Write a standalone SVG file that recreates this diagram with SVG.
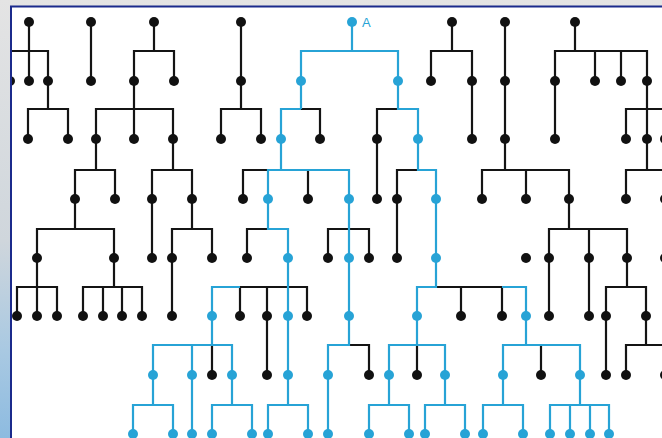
<svg xmlns="http://www.w3.org/2000/svg" width="662" height="438" viewBox="0 0 662 438">
<style>
.k{fill:none;stroke:#141414;stroke-width:2.2}
.b{fill:none;stroke:#27a3d6;stroke-width:2.2}
.nk{fill:#111}
.nb{fill:#27a3d6}
.lbl{font-family:"Liberation Sans",Arial,sans-serif;font-size:13px;fill:#27a3d6}
</style>
<defs>
<linearGradient id="bg" x1="0" y1="0" x2="0" y2="1">
<stop offset="0" stop-color="#e4e4e4"/>
<stop offset="0.55" stop-color="#cfd6dc"/>
<stop offset="0.8" stop-color="#a9c9e2"/>
<stop offset="1" stop-color="#8dbbe0"/>
</linearGradient>
<clipPath id="win"><rect x="12" y="8" width="660" height="440"/></clipPath>
</defs>
<rect width="662" height="438" fill="url(#bg)"/>
<rect x="11" y="7" width="660" height="440" fill="#ffffff"/>
<path d="M11 438V6.5H662" fill="none" stroke="#1b2a8c" stroke-width="2"/>
<g clip-path="url(#win)">
<g id="connectors">
<path class="k" d="M29 22V81 M10 81V51H48V81 M91 22V81 M154 22V51 M134 81V51H174V81 M241 22V81 M452 22V51 M431 81V51H472V81 M505 22V81 M575 22V51 M555 81V51H647V81 M595 51V81 M621 51V81"/>
<path class="b" d="M352 22V51 M301 81V51H398V81"/>
<path class="k" d="M48 81V109 M28 139V109H68V139 M134 81V139 M96 139V109H173V139 M241 81V109 M221 139V109H261V139 M301 109H320V139 M398 109H377V139 M472 81V139 M505 81V139 M555 81V139 M647 81V139 M626 139V109H670 M665 109V139"/>
<path class="b" d="M301 81V109 M281 139V109H301 M398 81V109H418V139"/>
<path class="k" d="M96 139V170 M75 199V170H115V199 M173 139V170 M152 199V170H192V199 M243 199V170H268 M308 170V199 M377 139V199 M418 170H397V199 M505 139V170 M482 199V170H569V199 M526 170V199 M647 139V170 M626 199V170H670 M665 170V199"/>
<path class="b" d="M281 139V170 M268 199V170H349V199 M418 139V170H436V199"/>
<path class="k" d="M75 199V229 M37 258V229H114V258 M152 199V258 M192 199V229 M172 258V229H212V258 M268 229H247V258 M328 258V229H369V258 M397 199V258 M569 199V229 M549 258V229H627V258 M589 229V258 M665 199V258"/>
<path class="b" d="M268 199V229H288V258 M349 199V258 M436 199V258"/>
<path class="k" d="M37 258V316 M17 316V287H57V316 M114 258V287 M83 316V287H142V316 M103 287V316 M122 287V316 M172 258V316 M240 316V287H307V316 M267 287V316 M436 287H502V316 M461 287V316 M549 258V316 M589 258V316 M627 258V287 M606 316V287H646V316"/>
<path class="b" d="M288 258V316 M212 316V287H240 M349 258V316 M436 258V287H417V316 M502 287H526V316"/>
<path class="k" d="M212 345V375 M267 316V375 M349 345H369V375 M417 345V375 M541 345V375 M606 316V375 M646 316V345 M626 375V345H670 M665 345V375"/>
<path class="b" d="M212 316V345 M153 375V345H232V375 M192 345V375 M288 316V375 M349 316V345H328V375 M417 316V345 M389 375V345H445V375 M526 316V345 M503 375V345H580V375"/>
<path class="b" d="M153 375V405 M133 434V405H173V434 M192 375V434 M232 375V405 M212 434V405H252V434 M288 375V405 M268 434V405H308V434 M328 375V434 M389 375V405 M369 434V405H409V434 M445 375V405 M425 434V405H465V434 M503 375V405 M483 434V405H523V434 M580 375V405 M550 434V405H609V434 M570 405V434 M590 405V434"/>
</g>
<g id="row0">
<g id="n0_29"><circle class="nk" cx="29" cy="22" r="5"/></g>
<g id="n0_91"><circle class="nk" cx="91" cy="22" r="5"/></g>
<g id="n0_154"><circle class="nk" cx="154" cy="22" r="5"/></g>
<g id="n0_241"><circle class="nk" cx="241" cy="22" r="5"/></g>
<g id="nA"><circle class="nb" cx="352" cy="22" r="5"/><text class="lbl" x="362" y="27">A</text></g>
<g id="n0_452"><circle class="nk" cx="452" cy="22" r="5"/></g>
<g id="n0_505"><circle class="nk" cx="505" cy="22" r="5"/></g>
<g id="n0_575"><circle class="nk" cx="575" cy="22" r="5"/></g>
</g>
<g id="row1">
<g id="n1_10"><circle class="nk" cx="10" cy="81" r="5"/></g>
<g id="n1_29"><circle class="nk" cx="29" cy="81" r="5"/></g>
<g id="n1_48"><circle class="nk" cx="48" cy="81" r="5"/></g>
<g id="n1_91"><circle class="nk" cx="91" cy="81" r="5"/></g>
<g id="n1_134"><circle class="nk" cx="134" cy="81" r="5"/></g>
<g id="n1_174"><circle class="nk" cx="174" cy="81" r="5"/></g>
<g id="n1_241"><circle class="nk" cx="241" cy="81" r="5"/></g>
<g id="n1_301"><circle class="nb" cx="301" cy="81" r="5"/></g>
<g id="n1_398"><circle class="nb" cx="398" cy="81" r="5"/></g>
<g id="n1_431"><circle class="nk" cx="431" cy="81" r="5"/></g>
<g id="n1_472"><circle class="nk" cx="472" cy="81" r="5"/></g>
<g id="n1_505"><circle class="nk" cx="505" cy="81" r="5"/></g>
<g id="n1_555"><circle class="nk" cx="555" cy="81" r="5"/></g>
<g id="n1_595"><circle class="nk" cx="595" cy="81" r="5"/></g>
<g id="n1_621"><circle class="nk" cx="621" cy="81" r="5"/></g>
<g id="n1_647"><circle class="nk" cx="647" cy="81" r="5"/></g>
</g>
<g id="row2">
<g id="n2_28"><circle class="nk" cx="28" cy="139" r="5"/></g>
<g id="n2_68"><circle class="nk" cx="68" cy="139" r="5"/></g>
<g id="n2_96"><circle class="nk" cx="96" cy="139" r="5"/></g>
<g id="n2_134"><circle class="nk" cx="134" cy="139" r="5"/></g>
<g id="n2_173"><circle class="nk" cx="173" cy="139" r="5"/></g>
<g id="n2_221"><circle class="nk" cx="221" cy="139" r="5"/></g>
<g id="n2_261"><circle class="nk" cx="261" cy="139" r="5"/></g>
<g id="n2_281"><circle class="nb" cx="281" cy="139" r="5"/></g>
<g id="n2_320"><circle class="nk" cx="320" cy="139" r="5"/></g>
<g id="n2_377"><circle class="nk" cx="377" cy="139" r="5"/></g>
<g id="n2_418"><circle class="nb" cx="418" cy="139" r="5"/></g>
<g id="n2_472"><circle class="nk" cx="472" cy="139" r="5"/></g>
<g id="n2_505"><circle class="nk" cx="505" cy="139" r="5"/></g>
<g id="n2_555"><circle class="nk" cx="555" cy="139" r="5"/></g>
<g id="n2_626"><circle class="nk" cx="626" cy="139" r="5"/></g>
<g id="n2_647"><circle class="nk" cx="647" cy="139" r="5"/></g>
<g id="n2_665"><circle class="nk" cx="665" cy="139" r="5"/></g>
</g>
<g id="row3">
<g id="n3_75"><circle class="nk" cx="75" cy="199" r="5"/></g>
<g id="n3_115"><circle class="nk" cx="115" cy="199" r="5"/></g>
<g id="n3_152"><circle class="nk" cx="152" cy="199" r="5"/></g>
<g id="n3_192"><circle class="nk" cx="192" cy="199" r="5"/></g>
<g id="n3_243"><circle class="nk" cx="243" cy="199" r="5"/></g>
<g id="n3_268"><circle class="nb" cx="268" cy="199" r="5"/></g>
<g id="n3_308"><circle class="nk" cx="308" cy="199" r="5"/></g>
<g id="n3_349"><circle class="nb" cx="349" cy="199" r="5"/></g>
<g id="n3_377"><circle class="nk" cx="377" cy="199" r="5"/></g>
<g id="n3_397"><circle class="nk" cx="397" cy="199" r="5"/></g>
<g id="n3_436"><circle class="nb" cx="436" cy="199" r="5"/></g>
<g id="n3_482"><circle class="nk" cx="482" cy="199" r="5"/></g>
<g id="n3_526"><circle class="nk" cx="526" cy="199" r="5"/></g>
<g id="n3_569"><circle class="nk" cx="569" cy="199" r="5"/></g>
<g id="n3_626"><circle class="nk" cx="626" cy="199" r="5"/></g>
<g id="n3_665"><circle class="nk" cx="665" cy="199" r="5"/></g>
</g>
<g id="row4">
<g id="n4_37"><circle class="nk" cx="37" cy="258" r="5"/></g>
<g id="n4_114"><circle class="nk" cx="114" cy="258" r="5"/></g>
<g id="n4_152"><circle class="nk" cx="152" cy="258" r="5"/></g>
<g id="n4_172"><circle class="nk" cx="172" cy="258" r="5"/></g>
<g id="n4_212"><circle class="nk" cx="212" cy="258" r="5"/></g>
<g id="n4_247"><circle class="nk" cx="247" cy="258" r="5"/></g>
<g id="n4_288"><circle class="nb" cx="288" cy="258" r="5"/></g>
<g id="n4_328"><circle class="nk" cx="328" cy="258" r="5"/></g>
<g id="n4_349"><circle class="nb" cx="349" cy="258" r="5"/></g>
<g id="n4_369"><circle class="nk" cx="369" cy="258" r="5"/></g>
<g id="n4_397"><circle class="nk" cx="397" cy="258" r="5"/></g>
<g id="n4_436"><circle class="nb" cx="436" cy="258" r="5"/></g>
<g id="n4_526"><circle class="nk" cx="526" cy="258" r="5"/></g>
<g id="n4_549"><circle class="nk" cx="549" cy="258" r="5"/></g>
<g id="n4_589"><circle class="nk" cx="589" cy="258" r="5"/></g>
<g id="n4_627"><circle class="nk" cx="627" cy="258" r="5"/></g>
<g id="n4_665"><circle class="nk" cx="665" cy="258" r="5"/></g>
</g>
<g id="row5">
<g id="n5_17"><circle class="nk" cx="17" cy="316" r="5"/></g>
<g id="n5_37"><circle class="nk" cx="37" cy="316" r="5"/></g>
<g id="n5_57"><circle class="nk" cx="57" cy="316" r="5"/></g>
<g id="n5_83"><circle class="nk" cx="83" cy="316" r="5"/></g>
<g id="n5_103"><circle class="nk" cx="103" cy="316" r="5"/></g>
<g id="n5_122"><circle class="nk" cx="122" cy="316" r="5"/></g>
<g id="n5_142"><circle class="nk" cx="142" cy="316" r="5"/></g>
<g id="n5_172"><circle class="nk" cx="172" cy="316" r="5"/></g>
<g id="n5_212"><circle class="nb" cx="212" cy="316" r="5"/></g>
<g id="n5_240"><circle class="nk" cx="240" cy="316" r="5"/></g>
<g id="n5_267"><circle class="nk" cx="267" cy="316" r="5"/></g>
<g id="n5_288"><circle class="nb" cx="288" cy="316" r="5"/></g>
<g id="n5_307"><circle class="nk" cx="307" cy="316" r="5"/></g>
<g id="n5_349"><circle class="nb" cx="349" cy="316" r="5"/></g>
<g id="n5_417"><circle class="nb" cx="417" cy="316" r="5"/></g>
<g id="n5_461"><circle class="nk" cx="461" cy="316" r="5"/></g>
<g id="n5_502"><circle class="nk" cx="502" cy="316" r="5"/></g>
<g id="n5_526"><circle class="nb" cx="526" cy="316" r="5"/></g>
<g id="n5_549"><circle class="nk" cx="549" cy="316" r="5"/></g>
<g id="n5_589"><circle class="nk" cx="589" cy="316" r="5"/></g>
<g id="n5_606"><circle class="nk" cx="606" cy="316" r="5"/></g>
<g id="n5_646"><circle class="nk" cx="646" cy="316" r="5"/></g>
</g>
<g id="row6">
<g id="n6_153"><circle class="nb" cx="153" cy="375" r="5"/></g>
<g id="n6_192"><circle class="nb" cx="192" cy="375" r="5"/></g>
<g id="n6_212"><circle class="nk" cx="212" cy="375" r="5"/></g>
<g id="n6_232"><circle class="nb" cx="232" cy="375" r="5"/></g>
<g id="n6_267"><circle class="nk" cx="267" cy="375" r="5"/></g>
<g id="n6_288"><circle class="nb" cx="288" cy="375" r="5"/></g>
<g id="n6_328"><circle class="nb" cx="328" cy="375" r="5"/></g>
<g id="n6_369"><circle class="nk" cx="369" cy="375" r="5"/></g>
<g id="n6_389"><circle class="nb" cx="389" cy="375" r="5"/></g>
<g id="n6_417"><circle class="nk" cx="417" cy="375" r="5"/></g>
<g id="n6_445"><circle class="nb" cx="445" cy="375" r="5"/></g>
<g id="n6_503"><circle class="nb" cx="503" cy="375" r="5"/></g>
<g id="n6_541"><circle class="nk" cx="541" cy="375" r="5"/></g>
<g id="n6_580"><circle class="nb" cx="580" cy="375" r="5"/></g>
<g id="n6_606"><circle class="nk" cx="606" cy="375" r="5"/></g>
<g id="n6_626"><circle class="nk" cx="626" cy="375" r="5"/></g>
<g id="n6_665"><circle class="nk" cx="665" cy="375" r="5"/></g>
</g>
<g id="row7">
<g id="n7_133"><circle class="nb" cx="133" cy="434" r="5"/></g>
<g id="n7_173"><circle class="nb" cx="173" cy="434" r="5"/></g>
<g id="n7_192"><circle class="nb" cx="192" cy="434" r="5"/></g>
<g id="n7_212"><circle class="nb" cx="212" cy="434" r="5"/></g>
<g id="n7_252"><circle class="nb" cx="252" cy="434" r="5"/></g>
<g id="n7_268"><circle class="nb" cx="268" cy="434" r="5"/></g>
<g id="n7_308"><circle class="nb" cx="308" cy="434" r="5"/></g>
<g id="n7_328"><circle class="nb" cx="328" cy="434" r="5"/></g>
<g id="n7_369"><circle class="nb" cx="369" cy="434" r="5"/></g>
<g id="n7_409"><circle class="nb" cx="409" cy="434" r="5"/></g>
<g id="n7_425"><circle class="nb" cx="425" cy="434" r="5"/></g>
<g id="n7_465"><circle class="nb" cx="465" cy="434" r="5"/></g>
<g id="n7_483"><circle class="nb" cx="483" cy="434" r="5"/></g>
<g id="n7_523"><circle class="nb" cx="523" cy="434" r="5"/></g>
<g id="n7_550"><circle class="nb" cx="550" cy="434" r="5"/></g>
<g id="n7_570"><circle class="nb" cx="570" cy="434" r="5"/></g>
<g id="n7_590"><circle class="nb" cx="590" cy="434" r="5"/></g>
<g id="n7_609"><circle class="nb" cx="609" cy="434" r="5"/></g>
</g>
</g>
</svg>
